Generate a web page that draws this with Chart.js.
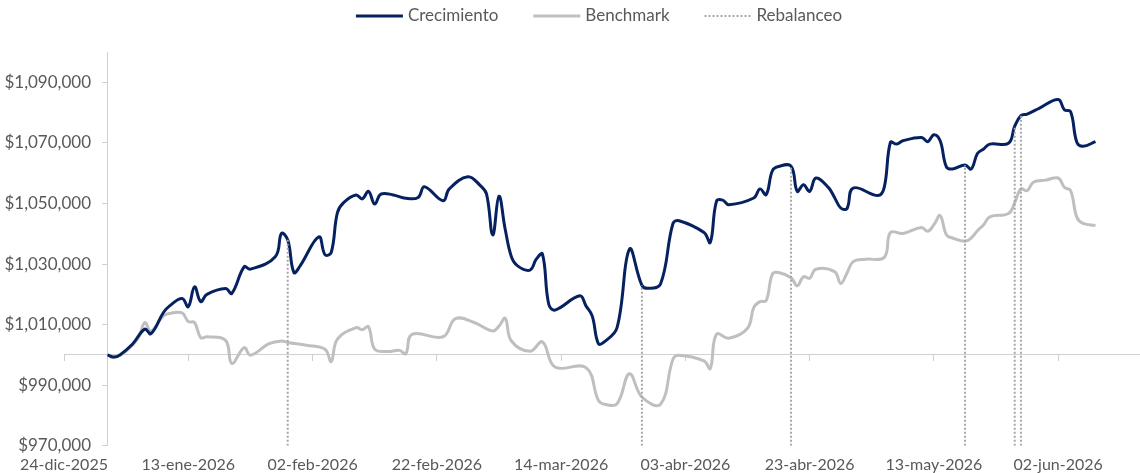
<!DOCTYPE html>
<html>
<head>
<meta charset="utf-8">
<script src="https://cdn.jsdelivr.net/npm/chart.js@4.4.1/dist/chart.umd.min.js"></script>
<style>
  html, body { margin: 0; padding: 0; background: #ffffff; }
  #wrap { width: 1140px; height: 473px; }
</style>
</head>
<body>
<div id="wrap"><canvas id="chart" width="1140" height="473"></canvas></div>
<script>
// Axis reference: day 0 of the horizontal axis
const startDate = '2025-12-24';

// Horizontal axis ticks (every 20 days)
const tickDates = ['2025-12-24', '2026-01-13', '2026-02-02', '2026-02-22', '2026-03-14',
                   '2026-04-03', '2026-04-23', '2026-05-13', '2026-06-02'];
const tickLabels = ['24-dic-2025', '13-ene-2026', '02-feb-2026', '22-feb-2026', '14-mar-2026',
                    '03-abr-2026', '23-abr-2026', '13-may-2026', '02-jun-2026'];
const axisEndDate = '2026-06-15';
const valueAxisDate = '2025-12-31';

// Value axis ticks
const yTicks = [970000, 990000, 1010000, 1030000, 1050000, 1070000, 1090000];
const yMin = 970000;
const yMax = 1100000;
const baseValue = 1000000;

// Crecimiento portfolio
const crecDates = [
  '2025-12-31', '2026-01-01', '2026-01-02', '2026-01-04', '2026-01-06', '2026-01-07', '2026-01-09', '2026-01-10',
  '2026-01-12', '2026-01-13', '2026-01-14', '2026-01-15', '2026-01-16', '2026-01-19', '2026-01-20', '2026-01-22',
  '2026-01-23', '2026-01-27', '2026-01-28', '2026-01-29', '2026-01-30', '2026-01-31',
  '2026-02-03', '2026-02-04', '2026-02-05', '2026-02-06', '2026-02-07', '2026-02-09', '2026-02-10', '2026-02-11',
  '2026-02-12', '2026-02-13', '2026-02-15', '2026-02-17', '2026-02-19', '2026-02-20', '2026-02-23', '2026-02-24',
  '2026-02-27',
  '2026-03-01', '2026-03-02', '2026-03-03', '2026-03-04', '2026-03-05', '2026-03-06', '2026-03-07', '2026-03-09',
  '2026-03-10', '2026-03-11', '2026-03-12', '2026-03-13', '2026-03-17', '2026-03-18', '2026-03-19', '2026-03-20',
  '2026-03-21', '2026-03-23', '2026-03-25', '2026-03-27', '2026-03-28', '2026-03-30',
  '2026-04-01', '2026-04-02', '2026-04-06', '2026-04-07', '2026-04-08', '2026-04-09', '2026-04-10', '2026-04-14',
  '2026-04-15', '2026-04-16', '2026-04-17', '2026-04-18', '2026-04-20', '2026-04-21', '2026-04-22', '2026-04-23',
  '2026-04-24', '2026-04-26', '2026-04-27', '2026-04-28', '2026-04-29', '2026-04-30',
  '2026-05-04', '2026-05-05', '2026-05-06', '2026-05-07', '2026-05-08', '2026-05-11', '2026-05-12', '2026-05-13',
  '2026-05-14', '2026-05-15', '2026-05-16', '2026-05-18', '2026-05-19', '2026-05-20', '2026-05-21', '2026-05-22',
  '2026-05-25', '2026-05-26', '2026-05-27', '2026-05-28', '2026-05-30',
  '2026-06-02', '2026-06-03', '2026-06-04', '2026-06-05', '2026-06-06', '2026-06-08'
];
const crecValues = [
  1000000, 999300, 1000000, 1003500, 1008500, 1007000, 1014000, 1016200,
  1018600, 1015900, 1022500, 1017600, 1020000, 1021900, 1020300, 1029100,
  1028300, 1032400, 1040100, 1038000, 1027200, 1029400,
  1039000, 1033100, 1033800, 1047000, 1050300, 1052800, 1051500, 1054000,
  1049800, 1053100, 1052800, 1051700, 1052000, 1055500, 1050900, 1054800,
  1058800,
  1055900, 1053100, 1039600, 1052400, 1041500, 1032400, 1029400, 1028000,
  1031600, 1033300, 1016800, 1014800, 1019500, 1016200, 1012900, 1003700,
  1004400, 1009000, 1034900, 1023000, 1022000, 1023400,
  1043400, 1044300, 1040400, 1037100, 1050700, 1051100, 1049600, 1051800,
  1054800, 1052900, 1060800, 1062200, 1062300, 1054000, 1056200, 1054000,
  1058400, 1055300, 1052000, 1048500, 1048300, 1055100,
  1052600, 1055300, 1070200, 1069600, 1070700, 1071800, 1070400, 1072700,
  1070700, 1062100, 1061400, 1062700, 1061400, 1066500, 1068000, 1069600,
  1069900, 1075500, 1079000, 1079500, 1081500,
  1084300, 1080900, 1080300, 1070200, 1068900, 1070400
];

// Benchmark
const benchDates = [
  '2025-12-31', '2026-01-01', '2026-01-03', '2026-01-05', '2026-01-06', '2026-01-07', '2026-01-09', '2026-01-10',
  '2026-01-12', '2026-01-13', '2026-01-14', '2026-01-15', '2026-01-16', '2026-01-19', '2026-01-20', '2026-01-22',
  '2026-01-23', '2026-01-26', '2026-01-28', '2026-01-29',
  '2026-02-01', '2026-02-04', '2026-02-05', '2026-02-06', '2026-02-09', '2026-02-10', '2026-02-11', '2026-02-12',
  '2026-02-14', '2026-02-16', '2026-02-17', '2026-02-18', '2026-02-23', '2026-02-25', '2026-02-28',
  '2026-03-03', '2026-03-04', '2026-03-05', '2026-03-06', '2026-03-09', '2026-03-11', '2026-03-13', '2026-03-18',
  '2026-03-20', '2026-03-21', '2026-03-23', '2026-03-25', '2026-03-27', '2026-03-30',
  '2026-04-01', '2026-04-02', '2026-04-06', '2026-04-07', '2026-04-08', '2026-04-10', '2026-04-13', '2026-04-14',
  '2026-04-15', '2026-04-16', '2026-04-17', '2026-04-18', '2026-04-20', '2026-04-21', '2026-04-22', '2026-04-23',
  '2026-04-24', '2026-04-27', '2026-04-28', '2026-04-29', '2026-04-30',
  '2026-05-02', '2026-05-05', '2026-05-06', '2026-05-08', '2026-05-11', '2026-05-12', '2026-05-13', '2026-05-14',
  '2026-05-15', '2026-05-16', '2026-05-18', '2026-05-19', '2026-05-20', '2026-05-21', '2026-05-22', '2026-05-25',
  '2026-05-26', '2026-05-27', '2026-05-28', '2026-05-29', '2026-05-31',
  '2026-06-02', '2026-06-03', '2026-06-04', '2026-06-05', '2026-06-06', '2026-06-08'
];
const benchValues = [
  1000000, 999100, 1001300, 1005700, 1010700, 1007900, 1012900, 1013700,
  1013900, 1011000, 1010700, 1005700, 1006000, 1004800, 997200, 1002400,
  999900, 1003700, 1004600, 1004100,
  1003200, 1001900, 997800, 1005200, 1009000, 1008300, 1009300, 1001900,
  1001100, 1001500, 1000400, 1006800, 1006000, 1012000, 1010700,
  1007900, 1009500, 1012100, 1004600, 1001200, 1004300, 996000, 995800,
  985000, 983700, 983900, 993800, 986100, 983700,
  998600, 999900, 998000, 995500, 1006800, 1005500, 1008800, 1015600,
  1017600, 1017900, 1026700, 1027200, 1025500, 1022800, 1025800, 1025300,
  1028300, 1027500, 1023600, 1027000, 1030800,
  1031600, 1032200, 1040400, 1040100, 1042100, 1040800, 1043000, 1046000,
  1039700, 1038600, 1037500, 1038600, 1041000, 1043000, 1045600, 1046700,
  1050300, 1054800, 1054200, 1057000, 1057700,
  1058400, 1055300, 1054200, 1045400, 1043400, 1042700
];

// Rebalancing dates
const rebalanceDates = ['2026-01-29', '2026-03-27', '2026-04-20', '2026-05-18', '2026-05-26', '2026-05-27'];

// ---- helpers ----
const MS_DAY = 86400000;
const t0 = Date.parse(startDate + 'T00:00:00Z');
const dayOf = s => Math.round((Date.parse(s + 'T00:00:00Z') - t0) / MS_DAY);
const toPoints = (dates, values) => dates.map((d, i) => ({ x: dayOf(d), y: values[i] }));
const tickDays = tickDates.map(dayOf);
const xMax = dayOf(axisEndDate);

// each rebalance mark: a vertical segment from the axis floor to the portfolio value
const rebalancePoints = rebalanceDates.flatMap(d => {
  const x = dayOf(d);
  const v = crecValues[crecDates.indexOf(d)];
  return [{ x, y: yMin }, { x, y: v }, { x, y: null }];
});

const TEXT = '#595959';
const AXIS = '#d0d0d0';
const FONT_X = { family: 'Lato', size: 16 };
const FONT_Y = { family: 'Lato', size: 17 };
const FONT_LEGEND = { family: 'Lato', size: 17 };

Chart.defaults.font.family = 'Lato';
Chart.defaults.font.size = 16;
Chart.defaults.color = TEXT;

// Legend drawn as line samples followed by the series name
const lineLegend = {
  id: 'lineLegend',
  afterDraw(chart, args, opts) {
    const ctx = chart.ctx;
    ctx.save();
    ctx.font = `${FONT_LEGEND.size}px ${FONT_LEGEND.family}`;
    ctx.textBaseline = 'middle';
    const items = chart.data.datasets.map(ds => ({ ds, w: ctx.measureText(ds.label).width }));
    const total = items.reduce((s, it) => s + opts.lineLen + opts.gap + it.w, 0) + opts.sep * (items.length - 1);
    let x = opts.centerX - total / 2;
    const y = opts.y;
    items.forEach(({ ds, w }) => {
      ctx.beginPath();
      ctx.strokeStyle = ds.borderColor;
      ctx.lineWidth = ds.borderWidth;
      ctx.setLineDash(ds.borderDash || []);
      ctx.moveTo(x, y);
      ctx.lineTo(x + opts.lineLen, y);
      ctx.stroke();
      ctx.setLineDash([]);
      ctx.fillStyle = TEXT;
      ctx.fillText(ds.label, x + opts.lineLen + opts.gap, y);
      x += opts.lineLen + opts.gap + w + opts.sep;
    });
    ctx.restore();
  }
};

const setDayTicks = scale => { scale.ticks = tickDays.map(v => ({ value: v })); };
const setValueTicks = scale => { scale.ticks = yTicks.map(v => ({ value: v })); };

new Chart(document.getElementById('chart'), {
  type: 'line',
  data: {
    datasets: [
      {
        label: 'Crecimiento',
        data: toPoints(crecDates, crecValues),
        borderColor: '#06215f',
        borderWidth: 3,
        tension: 0.4,
        pointRadius: 0,
        order: 1
      },
      {
        label: 'Benchmark',
        data: toPoints(benchDates, benchValues),
        borderColor: '#bfbfbf',
        borderWidth: 3,
        tension: 0.4,
        pointRadius: 0,
        order: 2
      },
      {
        label: 'Rebalanceo',
        data: rebalancePoints,
        borderColor: '#a6a6a6',
        borderWidth: 2,
        borderDash: [2, 2],
        tension: 0,
        pointRadius: 0,
        spanGaps: false,
        order: 0
      }
    ]
  },
  options: {
    responsive: false,
    animation: false,
    events: [],
    layout: { padding: { left: 64, right: 1, top: 52, bottom: -10 } },
    plugins: {
      legend: { display: false },
      tooltip: { enabled: false },
      lineLegend: { centerX: 599, y: 16, lineLen: 47, gap: 5, sep: 35 }
    },
    scales: {
      x: {
        type: 'linear',
        position: 'bottom',
        min: 0,
        max: xMax,
        afterBuildTicks: setDayTicks,
        grid: { display: false, drawTicks: false },
        border: { display: false },
        ticks: {
          autoSkip: false,
          maxRotation: 0,
          padding: 9,
          color: TEXT,
          font: FONT_X,
          callback: (v, i) => tickLabels[i]
        }
      },
      // horizontal axis line crossing at the starting value
      xBase: {
        type: 'linear',
        axis: 'x',
        position: { y: baseValue },
        min: 0,
        max: xMax,
        afterBuildTicks: setDayTicks,
        grid: { drawOnChartArea: false, drawTicks: true, tickLength: 6, color: AXIS, lineWidth: 1 },
        border: { display: true, color: AXIS, width: 1 },
        ticks: { display: false }
      },
      // value axis line with tick marks
      y: {
        type: 'linear',
        position: { x: dayOf(valueAxisDate) },
        min: yMin,
        max: yMax,
        afterBuildTicks: setValueTicks,
        grid: { drawOnChartArea: false, drawTicks: true, tickLength: 5, color: AXIS, lineWidth: 1 },
        border: { display: true, color: AXIS, width: 1 },
        ticks: { display: false }
      },
      // value axis labels, set left of the axis line
      yLabels: {
        type: 'linear',
        axis: 'y',
        position: { x: dayOf(valueAxisDate) - 2.65 },
        min: yMin,
        max: yMax,
        afterBuildTicks: setValueTicks,
        grid: { display: false, drawTicks: false },
        border: { display: false },
        ticks: {
          color: TEXT,
          font: FONT_Y,
          callback: v => '$' + Number(v).toLocaleString('en-US')
        }
      }
    }
  },
  plugins: [lineLegend]
});
</script>
</body>
</html>
